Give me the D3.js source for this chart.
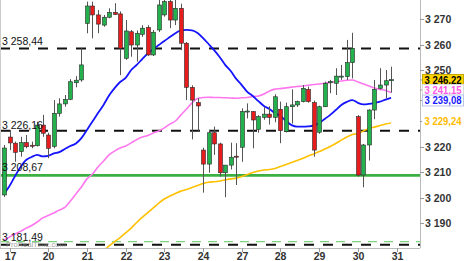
<!DOCTYPE html>
<html><head><meta charset="utf-8">
<script src="https://cdn.jsdelivr.net/npm/d3@7"></script>
<style>html,body{margin:0;padding:0;background:#fff;}svg{display:block;font-family:"Liberation Sans",Arial,sans-serif;}</style>
</head><body><svg id="c" width="464" height="261"></svg>
<script>
// ---- data ----
const opens  = [3201.0,3223.7,3221.3,3218.0,3221.5,3220.5,3220.3,3228.4,3224.5,3220.0,3233.0,3236.7,3238.5,3245.0,3246.1,3268.3,3275.1,3271.6,3267.6,3270.7,3272.6,3272.0,3254.6,3265.0,3259.8,3264.0,3266.7,3255.9,3265.7,3271.6,3276.8,3269.6,3274.2,3260.5,3243.2,3237.2,3218.6,3213.1,3225.4,3221.0,3209.7,3212.7,3216.2,3219.7,3233.7,3233.7,3226.7,3231.4,3232.7,3231.4,3234.6,3225.8,3235.6,3236.3,3237.6,3242.4,3237.2,3225.6,3235.6,3245.0,3244.8,3247.4,3247.4,3252.9,3231.7,3208.8,3220.6,3234.3,3242.8,3244.1,3245.8];
const highs  = [3220.6,3226.5,3221.9,3223.8,3224.5,3221.9,3229.7,3232.4,3225.4,3238.2,3238.9,3240.2,3246.4,3247.6,3258.5,3276.8,3276.8,3273.5,3271.6,3274.2,3276.2,3273.0,3269.6,3265.7,3265.5,3267.6,3267.6,3265.7,3277.5,3277.5,3277.5,3277.5,3276.0,3261.0,3244.0,3239.0,3219.5,3226.5,3227.8,3221.5,3212.7,3221.5,3221.3,3235.0,3236.9,3233.9,3232.3,3235.4,3235.8,3240.5,3237.6,3237.2,3242.4,3238.0,3244.1,3243.5,3238.0,3236.0,3245.4,3246.1,3250.7,3252.0,3261.8,3264.6,3232.3,3221.0,3234.6,3246.1,3250.7,3250.0,3251.3];
const lows   = [3200.2,3218.6,3214.0,3216.0,3219.3,3219.3,3220.0,3223.8,3215.4,3219.3,3231.7,3235.6,3238.2,3243.2,3245.4,3264.4,3262.4,3264.4,3267.0,3270.3,3271.6,3248.0,3254.0,3255.2,3253.3,3263.0,3255.5,3255.5,3264.9,3270.9,3266.4,3267.6,3257.8,3238.2,3222.8,3225.8,3201.9,3209.7,3216.7,3208.2,3200.1,3211.0,3204.9,3214.0,3231.0,3219.3,3225.4,3230.5,3228.6,3229.5,3221.3,3225.5,3229.0,3235.5,3237.3,3237.2,3216.0,3225.0,3235.5,3240.9,3240.2,3246.1,3246.1,3246.7,3208.2,3204.0,3214.5,3230.7,3242.4,3238.9,3241.1];
const closes = [3219.4,3221.4,3217.7,3221.5,3219.9,3220.2,3228.4,3225.2,3219.3,3233.0,3236.7,3238.5,3245.4,3246.0,3252.0,3275.1,3271.6,3268.0,3270.7,3272.6,3271.8,3258.5,3265.3,3259.8,3264.4,3266.4,3255.9,3264.8,3275.5,3276.8,3269.6,3274.2,3260.5,3243.2,3238.2,3235.9,3213.1,3225.4,3221.0,3209.7,3212.7,3215.8,3216.0,3233.7,3233.9,3230.4,3231.7,3232.7,3231.4,3239.5,3226.2,3235.6,3236.3,3237.6,3242.8,3237.6,3218.6,3235.6,3244.8,3245.5,3247.6,3247.6,3252.9,3258.5,3208.8,3220.6,3234.3,3242.4,3244.1,3245.8,3246.22];
const maBlue = [3201.4,3204.5,3208.4,3212.0,3214.7,3215.9,3216.7,3216.1,3216.3,3217.3,3217.8,3219.0,3220.2,3221.2,3223.3,3226.5,3229.8,3233.1,3236.3,3240.0,3242.9,3245.3,3246.9,3250.0,3252.0,3254.3,3256.5,3258.2,3259.8,3261.4,3262.9,3264.4,3265.5,3265.7,3265.5,3264.5,3262.5,3260.2,3257.8,3255.1,3252.0,3249.6,3246.5,3244.1,3241.4,3239.8,3237.8,3235.9,3234.7,3233.1,3232.0,3230.0,3228.4,3227.8,3227.8,3227.9,3228.2,3229.2,3230.8,3232.4,3234.3,3236.3,3237.5,3238.2,3237.1,3236.5,3236.7,3237.1,3237.6,3238.4,3239.08];
const maPink = [3183.3,3184.5,3185.7,3186.7,3188.0,3189.0,3190.4,3192.0,3192.9,3193.9,3195.1,3196.1,3198.6,3201.4,3204.1,3207.3,3209.2,3212.0,3214.3,3216.7,3218.2,3219.4,3220.2,3221.4,3222.7,3223.7,3224.3,3225.3,3226.1,3227.3,3228.8,3230.0,3232.4,3234.7,3237.1,3238.8,3239.2,3239.3,3239.2,3239.2,3239.1,3239.0,3238.9,3239.1,3239.2,3239.6,3239.8,3240.6,3241.8,3242.5,3242.7,3243.0,3243.3,3243.5,3243.7,3244.0,3244.3,3244.5,3244.8,3245.1,3245.4,3245.7,3246.0,3246.1,3245.3,3244.5,3243.7,3242.9,3242.4,3242.0,3241.15];
const yellowStart = 18;
const maYellow = [3179.0,3181.0,3182.7,3184.3,3186.1,3188.0,3190.2,3192.2,3194.1,3195.9,3197.8,3199.4,3200.6,3201.6,3202.5,3203.1,3203.9,3204.7,3205.5,3206.0,3206.2,3206.5,3206.9,3207.3,3207.6,3208.2,3209.0,3209.8,3210.4,3210.8,3211.0,3211.4,3212.2,3212.9,3213.7,3214.5,3215.3,3216.3,3217.1,3218.0,3219.0,3220.0,3221.2,3222.5,3223.7,3224.7,3225.1,3226.1,3227.1,3227.6,3228.2,3228.8,3229.24];
const dayLabels = ["17","20","21","22","23","24","27","28","29","30","31"];
const dayStartIdx = [1,8,15,22,29,36,43,50,57,64,71];
const yTicks = [3270,3260,3250,3220,3210,3200,3190];
const levelsDashed = [3258.44,3226.16,3181.49];
const levelSupport = 3208.67;
const lightGreenLevel = 3182.7;
const tags = [
  {v:3246.22, ty:80, fill:"#ffd400", color:"#000", stroke:"#c9a800"},
  {v:3241.15, ty:90, fill:"#fff", color:"#ff5ce6", stroke:"#ddd"},
  {v:3239.08, ty:100.5, fill:"#fff", color:"#1a1aff", stroke:"#b8c4e8"},
  {v:3229.24, ty:121.5, fill:"#fff", color:"#ffbb00", stroke:"#fff"}
];

// ---- helpers ----
const fmt = (v, dec) => {
  const s = v.toFixed(dec).replace(".", ",");
  return s.replace(/^(\d)(\d{3})/, "$1 $2");
};

const W = 420, H = 248;
const svg = d3.select("#c");
const x = d3.scaleLinear().domain([-0.72, 75.23]).range([0, W]);
const y = d3.scaleLinear().domain([3190, 3270]).range([223, 19]);

svg.append("defs").append("clipPath").attr("id","pc")
  .append("rect").attr("x",0).attr("y",0).attr("width",W).attr("height",H);
const g = svg.append("g").attr("clip-path","url(#pc)");

// dashed levels
levelsDashed.forEach(v => {
  g.append("line").attr("x1",0).attr("x2",W).attr("y1",y(v)).attr("y2",y(v))
    .attr("stroke","#111").attr("stroke-width",2).attr("stroke-dasharray","10,9");
});
g.append("line").attr("x1",0).attr("x2",W).attr("y1",y(lightGreenLevel)).attr("y2",y(lightGreenLevel))
  .attr("stroke","#7ad67a").attr("stroke-width",1.2).attr("stroke-dasharray","9,7");
g.append("line").attr("x1",0).attr("x2",W).attr("y1",y(levelSupport)).attr("y2",y(levelSupport))
  .attr("stroke","#3cb043").attr("stroke-width",2.6);

// moving averages
const line = d3.line().x(d=>x(d[0])).y(d=>y(d[1])).curve(d3.curveMonotoneX);
g.append("path").attr("d", line(maYellow.map((v,i)=>[i+yellowStart,v])))
  .attr("fill","none").attr("stroke","#ffc000").attr("stroke-width",1.6);
g.append("path").attr("d", line(maPink.map((v,i)=>[i,v])))
  .attr("fill","none").attr("stroke","#ff77ee").attr("stroke-width",1.6);
g.append("path").attr("d", line(maBlue.map((v,i)=>[i,v])))
  .attr("fill","none").attr("stroke","#1414ff").attr("stroke-width",1.8);

// candles
const candles = opens.map((o,i)=>({i,o,h:highs[i],l:lows[i],c:closes[i]}));
const cg = g.append("g");
cg.selectAll("line.w").data(candles).join("line").attr("class","w")
  .attr("x1",d=>Math.round(x(d.i))+0.5).attr("x2",d=>Math.round(x(d.i))+0.5)
  .attr("y1",d=>y(d.h)).attr("y2",d=>y(d.l)).attr("stroke","#555").attr("stroke-width",1);
cg.selectAll("rect.b").data(candles).join("rect").attr("class","b")
  .attr("x",d=>Math.round(x(d.i))-1.5).attr("width",4)
  .attr("y",d=>y(Math.max(d.o,d.c)))
  .attr("height",d=>Math.max(1,Math.abs(y(d.o)-y(d.c))))
  .attr("fill",d=>d.c>=d.o?"#22b14c":"#e81c1c")
  .attr("stroke","#2a2a2a").attr("stroke-width",0.6);

// level labels (left)
const lvlLabels = [[3258.44,-3],[3226.16,-2],[levelSupport,-4],[3181.49,-4]];
lvlLabels.forEach(([v,dy]) => {
  svg.append("text").attr("x",2).attr("y",y(v)+dy).attr("font-size",10.5)
    .attr("fill","#111").text(fmt(v,2));
});
svg.append("text").attr("x",6).attr("y",246.5).attr("font-size",7.5).attr("fill","#8a8a8a")
  .attr("opacity",0.8).text("ProRealTime.com");

// axes frame
svg.append("line").attr("x1",0.5).attr("x2",0.5).attr("y1",0).attr("y2",H).attr("stroke","#ccc");
svg.append("line").attr("x1",0).attr("x2",W).attr("y1",H+0.5).attr("y2",H+0.5).attr("stroke","#bbb");
svg.append("line").attr("x1",W+0.5).attr("x2",W+0.5).attr("y1",0).attr("y2",H).attr("stroke","#bbb");

// x axis
const xa = svg.append("g");
dayStartIdx.forEach((idx,k) => {
  const xx = Math.round(x(idx))+0.5;
  xa.append("line").attr("x1",xx).attr("x2",xx).attr("y1",H).attr("y2",H+4).attr("stroke","#999");
  xa.append("text").attr("x",xx).attr("y",260).attr("text-anchor","middle")
    .attr("font-size",10.5).attr("font-weight","bold").attr("fill","#333").text(dayLabels[k]);
});

// y axis (right)
const ya = svg.append("g");
yTicks.forEach(t => {
  ya.append("line").attr("x1",W).attr("x2",W+4).attr("y1",Math.round(y(t))+0.5).attr("y2",Math.round(y(t))+0.5).attr("stroke","#999");
  ya.append("text").attr("x",425).attr("y",y(t)+4).attr("font-size",10.5).attr("font-weight","bold")
    .attr("fill","#333").text(fmt(t,0));
});

// price tags
tags.forEach(tg => {
  ya.append("line").attr("x1",W).attr("x2",W+4).attr("y1",tg.ty).attr("y2",tg.ty).attr("stroke","#999");
  ya.append("rect").attr("x",422.5).attr("y",tg.ty-5.5).attr("width",41).attr("height",11)
    .attr("fill",tg.fill).attr("stroke",tg.stroke).attr("stroke-width",1);
  ya.append("text").attr("x",424.5).attr("y",tg.ty+3.8).attr("font-size",10).attr("font-weight","bold")
    .attr("textLength",37).attr("lengthAdjust","spacingAndGlyphs")
    .attr("fill",tg.color).text(fmt(tg.v,2));
});
</script></body></html>
